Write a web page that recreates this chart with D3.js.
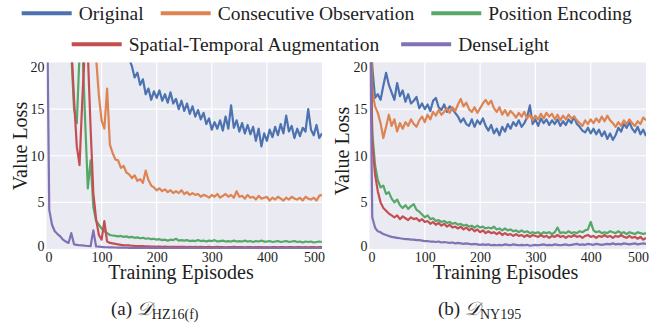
<!DOCTYPE html>
<html>
<head>
<meta charset="utf-8">
<script src="https://cdn.jsdelivr.net/npm/d3@7"></script>
<style>
  body { margin: 0; background: #fff; }
  svg text { font-family: "Liberation Serif", "Times New Roman", serif; fill: #1e1e1e; }
</style>
</head>
<body>
<svg id="chart" width="663" height="331"></svg>
<script>
// episodes sampled every 5 steps
const episodes = d3.range(0, 501, 5);

const seriesNames = ["Original", "Consecutive Observation", "Position Encoding",
  "Spatial-Temporal Augmentation", "DenseLight"];
const colors = ["#4C72B0", "#DD8452", "#55A868", "#C44E52", "#8172B3"];
const xTicks = [0, 100, 200, 300, 400, 500];
const yTicks = [0, 5, 10, 15, 20];

// (a) HZ16(f)
const hzOriginal = [
  48, 46, 45, 44, 42, 41, 40, 38, 37, 36,
  35, 34, 33, 32, 31, 30, 29, 28.5, 28, 27,
  26, 25.5, 25, 24, 23.5, 23, 22.5, 22, 21.5, 21,
  20.4, 19.6, 18.4, 18.9, 17.6, 18.2, 16.6, 17.2, 16.0, 16.9,
  16.2, 17.0, 15.9, 16.6, 15.7, 16.8, 15.6, 16.1, 15.0, 15.9,
  14.8, 15.6, 14.5, 15.3, 14.2, 14.9, 13.9, 14.6, 13.4, 14.0,
  12.8, 13.6, 12.9, 13.8, 12.7, 14.2, 12.9, 15.4, 13.0, 13.8,
  12.6, 13.5, 12.4, 13.3, 12.3, 13.1, 11.6, 12.9, 11.0, 12.4,
  11.6, 12.8, 12.0, 13.1, 12.2, 13.4, 12.4, 14.3, 12.6, 13.2,
  11.9, 12.9, 12.1, 13.0, 12.6, 15.0, 12.8, 12.2, 13.3, 11.9,
  12.4
];
const hzConsecutive = [
  60, 58, 56, 54, 52, 50, 48, 46, 44, 42,
  40, 38, 36, 34, 32, 30, 27, 24, 20.5, 16.5,
  13.8, 12.9, 17.2, 11.2, 10.3, 9.6, 9.5, 8.7, 8.9, 8.2,
  8.0, 7.6, 7.9, 7.3, 7.5, 7.1, 8.4, 7.4, 6.8, 6.6,
  6.3, 6.5, 6.2, 6.4, 6.1, 6.3, 6.0, 6.2, 6.0, 6.3,
  5.9, 6.1, 5.8, 6.0, 5.8, 5.9, 5.6, 5.8, 5.7, 5.5,
  5.8, 5.6, 5.9, 5.5, 5.7, 5.9, 5.6, 5.8, 5.5, 6.2,
  5.6, 5.7, 5.4, 5.8, 5.5, 5.6, 5.3, 5.7, 5.4, 5.5,
  5.6, 5.2, 5.5, 5.3, 5.6, 5.4, 5.2, 5.5, 5.3, 5.6,
  5.4, 5.3, 5.5, 5.2, 5.6, 5.4, 5.3, 5.5, 5.2, 5.7,
  5.8
];
const hzPosition = [
  45, 43, 41, 39, 37, 35, 33, 30, 27, 21,
  15.0, 13.5, 21, 22, 14, 6.5, 9.5, 4.5, 3.0, 2.6,
  2.2, 1.9, 1.7, 1.5, 1.45, 1.4, 1.35, 1.4, 1.3, 1.35,
  1.25, 1.3, 1.2, 1.25, 1.15, 1.2, 1.1, 1.15, 1.05, 1.1,
  1.0, 1.05, 0.95, 1.0, 0.9, 1.0, 0.95, 1.1, 0.9, 0.95,
  0.9, 0.95, 0.85, 0.9, 0.85, 0.95, 0.85, 0.9, 0.8, 0.9,
  0.85, 0.95, 0.8, 0.85, 0.9, 0.8, 0.85, 0.8, 0.9, 0.8,
  0.85, 0.8, 0.9, 0.8, 0.85, 0.75, 0.85, 0.8, 0.9, 0.8,
  0.8, 0.85, 0.75, 0.8, 0.85, 0.75, 0.8, 0.85, 0.75, 0.8,
  0.85, 0.75, 0.8, 0.7, 0.8, 0.75, 0.8, 0.7, 0.75, 0.8,
  0.75
];
const hzSpatial = [
  40, 38, 36, 34, 32, 30, 28, 26, 24, 22,
  16, 11, 9.0, 16, 22, 21, 13, 6.0, 3.2, 1.5,
  1.0, 3.0, 0.8, 0.65, 0.6, 0.55, 0.5, 0.45, 0.42, 0.4,
  0.38, 0.35, 0.33, 0.32, 0.3, 0.3, 0.28, 0.28, 0.27, 0.26,
  0.25, 0.26, 0.24, 0.25, 0.23, 0.24, 0.22, 0.24, 0.22, 0.23,
  0.22, 0.2, 0.23, 0.21, 0.22, 0.2, 0.22, 0.21, 0.2, 0.22,
  0.21, 0.2, 0.22, 0.2, 0.21, 0.19, 0.21, 0.2, 0.22, 0.2,
  0.2, 0.21, 0.19, 0.2, 0.21, 0.19, 0.2, 0.2, 0.21, 0.19,
  0.2, 0.19, 0.21, 0.2, 0.19, 0.2, 0.21, 0.19, 0.2, 0.2,
  0.19, 0.2, 0.21, 0.19, 0.2, 0.19, 0.2, 0.21, 0.19, 0.2,
  0.2
];
const hzDense = [
  32, 4.2, 2.6, 1.9, 1.6, 1.35, 1.0, 0.8, 0.65, 1.7,
  0.5, 0.45, 0.4, 0.38, 0.35, 0.32, 0.3, 2.0, 0.27, 0.25,
  0.22, 0.2, 0.19, 0.18, 0.17, 0.16, 0.15, 0.15, 0.14, 0.14,
  0.13, 0.13, 0.12, 0.13, 0.12, 0.12, 0.11, 0.12, 0.11, 0.11,
  0.11, 0.1, 0.11, 0.1, 0.1, 0.11, 0.1, 0.1, 0.11, 0.1,
  0.1, 0.11, 0.1, 0.1, 0.11, 0.1, 0.1, 0.11, 0.1, 0.1,
  0.11, 0.1, 0.1, 0.11, 0.1, 0.1, 0.11, 0.1, 0.1, 0.11,
  0.1, 0.1, 0.11, 0.1, 0.1, 0.11, 0.1, 0.1, 0.11, 0.1,
  0.1, 0.11, 0.1, 0.1, 0.11, 0.1, 0.1, 0.11, 0.1, 0.1,
  0.11, 0.1, 0.1, 0.11, 0.1, 0.1, 0.11, 0.1, 0.1, 0.11,
  0.1
];

// (b) NY195
const nyOriginal = [
  30, 19.5, 16.2, 16.6, 16.0, 17.5, 18.9, 17.6, 16.8, 16.0,
  17.8, 16.4, 17.0, 15.8, 16.6, 15.6, 15.9, 16.3, 15.1, 15.6,
  15.0, 15.5, 14.8, 15.9, 16.2, 15.2, 14.9, 15.5, 14.7, 15.3,
  15.0, 14.6, 14.2, 13.6, 14.0, 13.4, 13.2, 13.9, 13.1, 13.8,
  13.4, 14.0, 13.2, 12.7, 13.3, 12.4, 12.9, 12.2, 13.1, 12.6,
  13.4, 12.9, 13.6, 13.2, 13.8, 13.1, 13.5, 14.1, 15.4, 13.4,
  13.9, 13.2, 14.0, 13.5, 13.9, 13.3, 13.8, 13.4, 13.9, 13.2,
  13.7, 13.3, 13.9, 13.5, 14.2, 13.4, 13.1, 12.7, 12.5, 13.0,
  12.4, 12.9, 12.3, 12.8, 12.1, 12.6, 11.8, 12.4, 11.7, 12.2,
  13.0, 12.6, 13.4, 13.0, 13.6, 12.9, 12.5, 13.1, 12.3, 12.8,
  12.1
];
const nyConsecutive = [
  30, 17.0, 15.3, 14.6, 13.5, 11.9, 13.1, 14.4, 13.2, 13.9,
  12.6, 13.5, 12.9, 13.6, 13.2, 13.9, 13.4, 13.1, 13.8, 14.2,
  13.6, 14.4, 13.9, 14.7, 14.3, 14.9, 14.4, 14.7, 15.1, 14.6,
  15.2, 14.8, 15.5, 16.1, 15.3, 15.7, 15.0, 14.7, 15.2, 14.6,
  15.1, 15.6, 16.0, 15.5, 15.9, 15.1, 14.7, 15.2, 14.4, 14.9,
  14.3, 14.8, 14.5, 14.1, 14.6, 14.2, 14.7, 14.0, 14.4, 13.8,
  14.3, 13.9, 14.5, 14.0, 14.6, 14.2, 14.5, 13.9, 14.4, 13.8,
  14.3, 13.9, 14.4, 14.0, 14.2, 13.8, 13.5, 13.2, 13.8, 13.4,
  13.9, 13.5, 14.0, 13.6, 14.2, 13.7, 14.3, 13.8, 13.5, 13.1,
  13.6, 13.2, 13.8, 13.4, 13.9, 13.5, 13.2, 13.7, 13.4, 14.1,
  13.8
];
const nyPosition = [
  30, 12.5, 9.0, 7.4, 6.6, 6.8, 5.9, 6.1, 5.4, 5.0,
  5.3, 4.7, 4.4, 4.7, 4.3, 4.6, 4.8, 4.2, 4.0, 3.7,
  3.4, 3.6, 3.2, 3.3, 3.0, 3.1, 2.9, 3.0, 2.8, 2.9,
  2.7, 2.8, 2.6, 2.7, 2.5, 2.6, 2.4, 2.5, 2.3, 2.5,
  2.3, 2.4, 2.2, 2.3, 2.2, 2.4, 2.1, 2.2, 2.0, 2.2,
  2.0, 2.1, 1.9, 2.0, 1.8, 2.0, 1.8, 1.9, 1.7, 1.8,
  1.7, 1.8, 1.6, 1.8, 1.7, 1.8, 1.6, 1.8, 2.3, 1.7,
  1.8, 1.7, 1.9, 1.7, 1.8, 1.7, 1.9, 1.8, 2.0, 2.1,
  2.9, 2.0, 1.8, 1.9, 1.7, 1.8, 1.7, 1.9, 1.8, 1.7,
  1.9, 1.7, 1.8, 1.6, 1.8, 1.7, 1.6, 1.8, 1.7, 1.6,
  1.7
];
const nySpatial = [
  30, 11.5, 8.0, 6.2, 5.0, 4.4, 4.1, 3.8, 3.6, 3.4,
  3.6, 3.2, 3.5, 3.3, 3.1, 3.4, 3.2, 3.3, 3.0, 3.2,
  2.9, 3.0, 2.7, 2.9, 2.6, 2.8, 2.5, 2.7, 2.4, 2.6,
  2.3, 2.4, 2.2, 2.4, 2.1, 2.3, 2.0, 2.2, 1.9, 2.1,
  1.8, 2.0, 1.7, 1.9, 1.7, 1.8, 1.6, 1.8, 1.5, 1.7,
  1.5, 1.6, 1.4, 1.6, 1.4, 1.5, 1.3, 1.5, 1.3, 1.5,
  1.4, 1.3, 1.5, 1.3, 1.4, 1.2, 1.4, 1.3, 1.5, 1.3,
  1.4, 1.2, 1.4, 1.3, 1.5, 1.3, 1.4, 1.2, 1.4, 1.5,
  1.3, 1.4, 1.2, 1.4, 1.3, 1.5, 1.3, 1.4, 1.2, 1.4,
  1.3, 1.5, 1.3, 1.2, 1.4, 1.2, 1.3, 1.1, 1.3, 1.0,
  1.2
];
const nyDense = [
  30, 3.4, 2.3, 1.9, 1.8, 1.6, 1.5, 1.4, 1.3, 1.25,
  1.2, 1.15, 1.1, 1.05, 1.05, 1.0, 1.0, 0.95, 0.95, 0.9,
  0.85, 0.85, 0.8, 0.8, 0.75, 0.8, 0.7, 0.75, 0.7, 0.65,
  0.7, 0.6, 0.65, 0.6, 0.55, 0.6, 0.55, 0.5, 0.55, 0.5,
  0.45, 0.5, 0.45, 0.5, 0.4, 0.45, 0.4, 0.45, 0.4, 0.5,
  0.45, 0.4, 0.5, 0.45, 0.4, 0.45, 0.4, 0.45, 0.35, 0.4,
  0.45, 0.4, 0.45, 0.5, 0.4, 0.45, 0.4, 0.5, 0.45, 0.4,
  0.45, 0.5, 0.4, 0.45, 0.5, 0.55, 0.45, 0.5, 0.45, 0.55,
  0.5, 0.45, 0.55, 0.5, 0.45, 0.5, 0.55, 0.5, 0.6, 0.5,
  0.55, 0.5, 0.6, 0.55, 0.5, 0.55, 0.6, 0.5, 0.55, 0.6,
  0.55
];

const svg = d3.select("#chart");

const panels = [
  { series: [hzOriginal, hzConsecutive, hzPosition, hzSpatial, hzDense],
    left: 46.5, right: 322, yTitle: { x: 26.5, y: 146 }, xTitleX: 181,
    capX: 111, capLabel: "(a) ", capSub: "HZ16(f)" },
  { series: [nyOriginal, nyConsecutive, nyPosition, nySpatial, nyDense],
    left: 369.5, right: 646, yTitle: { x: 348.5, y: 151 }, xTitleX: 505.5,
    capX: 438, capLabel: "(b) ", capSub: "NY195" }
];

panels.forEach((p, i) => {
  const x = d3.scaleLinear().domain([0, 500]).range([p.left, p.right]);
  const y = d3.scaleLinear().domain([0, 20]).range([249, 62.5]);
  const g = svg.append("g");

  // seaborn darkgrid background
  g.append("rect")
    .attr("x", p.left).attr("y", y(20))
    .attr("width", p.right - p.left).attr("height", y(0) - y(20))
    .attr("fill", "#EAEAF2");

  g.append("g").selectAll("line")
    .data(xTicks.slice(1, -1)).join("line")
    .attr("x1", d => x(d)).attr("x2", d => x(d))
    .attr("y1", y(20)).attr("y2", y(0))
    .attr("stroke", "#fff").attr("stroke-width", 1.2);

  g.append("g").selectAll("line")
    .data(yTicks.slice(1, -1)).join("line")
    .attr("x1", p.left).attr("x2", p.right)
    .attr("y1", d => y(d)).attr("y2", d => y(d))
    .attr("stroke", "#fff").attr("stroke-width", 1.2);

  const clipId = "clip" + i;
  svg.append("clipPath").attr("id", clipId).append("rect")
    .attr("x", p.left).attr("y", y(20))
    .attr("width", p.right - p.left).attr("height", y(0) - y(20));

  const line = d3.line()
    .x((d, j) => x(episodes[j]))
    .y(d => y(d));

  g.append("g").attr("clip-path", `url(#${clipId})`)
    .selectAll("path").data(p.series).join("path")
    .attr("d", line)
    .attr("fill", "none")
    .attr("stroke", (d, k) => colors[k])
    .attr("stroke-width", 2.2)
    .attr("stroke-linejoin", "round");

  // axes (labels only)
  const xAxis = g.append("g")
    .attr("transform", `translate(0,${y(0)})`)
    .call(d3.axisBottom(x).tickValues(xTicks).tickSize(0).tickPadding(3))
    .attr("font-size", 14);
  xAxis.select(".domain").remove();
  xAxis.selectAll("text")
    .attr("dx", d => d === 0 ? 2 : d === 500 ? -8 : 0);

  const yAxis = g.append("g")
    .attr("transform", `translate(${p.left},0)`)
    .call(d3.axisLeft(y).tickValues(yTicks).tickSize(0).tickPadding(2))
    .attr("font-size", 14);
  yAxis.select(".domain").remove();
  yAxis.selectAll("text")
    .attr("dy", d => d === 20 ? "0.64em" : d === 0 ? "0.08em" : "0.32em");

  g.append("text")
    .attr("transform", `translate(${p.yTitle.x},${p.yTitle.y}) rotate(-90)`)
    .attr("text-anchor", "middle")
    .attr("font-size", 20)
    .text("Value Loss");

  g.append("text")
    .attr("x", p.xTitleX).attr("y", 278.5)
    .attr("text-anchor", "middle")
    .attr("font-size", 20)
    .text("Training Episodes");

  // caption
  const cap = g.append("text")
    .attr("x", p.capX).attr("y", 315)
    .attr("font-size", 19);
  cap.append("tspan").text(p.capLabel);
  cap.append("tspan").attr("font-style", "italic").text("\u{1D49F}");
  cap.append("tspan").attr("font-size", 14).attr("dy", 4).text(p.capSub);
});

// legend, two rows
const legendRows = [
  { y: 13.3, start: 21.7, gap: 17, items: [0, 1, 2] },
  { y: 44.3, start: 71.7, gap: 22, items: [3, 4] }
];
legendRows.forEach(row => {
  let cx = row.start;
  row.items.forEach(k => {
    svg.append("line")
      .attr("x1", cx).attr("x2", cx + 50)
      .attr("y1", row.y).attr("y2", row.y)
      .attr("stroke", colors[k]).attr("stroke-width", 4);
    const t = svg.append("text")
      .attr("x", cx + 57).attr("y", row.y + 6.2)
      .attr("font-size", 19.5)
      .text(seriesNames[k]);
    cx += 57 + t.node().getComputedTextLength() + row.gap;
  });
});
</script>
</body>
</html>
